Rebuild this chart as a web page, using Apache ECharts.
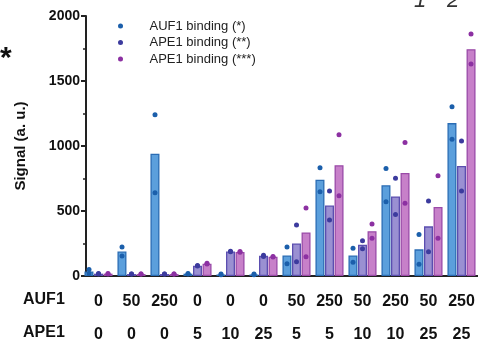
<!DOCTYPE html>
<html>
<head>
<meta charset="utf-8">
<script src="https://cdn.jsdelivr.net/npm/echarts@6/dist/echarts.min.js"></script>
<style>
  html, body { margin: 0; padding: 0; background: #fff; }
  #chart { width: 478px; height: 343px; }
</style>
</head>
<body>
<div id="chart"></div>
<script>
// conditions (concentrations) for each group
const auf1Labels = ["0", "50", "250", "0", "0", "0", "50", "250", "50", "250", "50", "250"];
const ape1Labels = ["0", "0", "0", "5", "10", "25", "5", "5", "10", "10", "25", "25"];

// bar heights (means)
const auf1Mean = [35, 188, 940, 18, 12, 12, 158, 740, 158, 698, 205, 1176];
const ape1MeanA = [18, 15, 15, 78, 188, 155, 250, 542, 241, 612, 382, 846];
const ape1MeanB = [18, 15, 15, 95, 185, 148, 335, 852, 345, 792, 531, 1745];

// replicate points
const auf1Rep1 = [50, 223, 1240, 20, 15, 15, 223, 833, 213, 826, 320, 1302];
const auf1Rep2 = [20, 154, 640, 16, 10, 10, 95, 649, 105, 572, 90, 1051];
const ape1ARep1 = [20, 15, 15, 80, 190, 160, 392, 654, 272, 751, 577, 1038];
const ape1ARep2 = [16, 15, 15, 76, 186, 150, 110, 431, 210, 474, 187, 654];
const ape1BRep1 = [20, 15, 15, 98, 188, 150, 523, 1087, 400, 1026, 772, 1861];
const ape1BRep2 = [16, 15, 15, 92, 182, 146, 148, 618, 290, 559, 290, 1630];

const yTicks = [0, 500, 1000, 1500, 2000];

const categories = auf1Labels.map((a, i) => a + "|" + ape1Labels[i]);
const pts = (r1, r2) => r1.map((v, i) => [i, v]).concat(r2.map((v, i) => [i, v]));

const chart = echarts.init(document.getElementById("chart"));
const font = "Liberation Sans, Arial, sans-serif";
const barW = 9;
const step = 9.5;

function barSeries(name, data, fill, border) {
  return {
    name: name,
    type: "bar",
    data: data,
    barWidth: barW,
    barGap: "6%",
    itemStyle: { color: fill, borderColor: border, borderWidth: 1.3 },
    z: 2,
  };
}

function dotSeries(name, data, color, off) {
  return {
    name: name,
    type: "scatter",
    data: data,
    symbolSize: 5,
    symbolOffset: [off, 0],
    itemStyle: { color: color, opacity: 1 },
    z: 5,
  };
}

chart.setOption({
  animation: false,
  textStyle: { fontFamily: font },
  grid: { left: 82, right: 0, top: 16, bottom: 67, outerBoundsMode: "none" },
  legend: {
    orient: "vertical",
    left: 113,
    top: 14,
    itemWidth: 48,
    itemHeight: 5,
    itemGap: 2.5,
    icon: "circle",
    data: ["AUF1 binding (*)", "APE1 binding (**)", "APE1 binding (***)"],
    textStyle: { fontSize: 13, color: "#222", lineHeight: 14, fontFamily: font },
  },
  xAxis: {
    type: "category",
    data: categories,
    axisLine: { lineStyle: { color: "#222", width: 2 } },
    axisTick: { alignWithLabel: true, length: 6, lineStyle: { color: "#222", width: 2 } },
    axisLabel: {
      interval: 0,
      margin: 9.5,
      fontSize: 16,
      fontWeight: "bold",
      color: "#111",
      lineHeight: 33,
      formatter: (v) => v.split("|").join("\n"),
    },
  },
  yAxis: {
    type: "value",
    min: 0,
    max: 2000,
    interval: 500,
    offset: -4,
    name: "Signal (a. u.)",
    nameLocation: "middle",
    nameGap: 58,
    nameTextStyle: { fontSize: 15, fontWeight: "bold", color: "#111", fontFamily: font },
    axisLine: { show: true, lineStyle: { color: "#222", width: 2 } },
    axisTick: { show: true, length: 5, lineStyle: { color: "#222", width: 2 } },
    minorTick: { show: true, splitNumber: 2, length: 3, lineStyle: { color: "#222", width: 1.5 } },
    splitLine: { show: false },
    axisLabel: {
      fontSize: 14,
      fontWeight: "bold",
      color: "#111",
      margin: 6,
      formatter: (v) => (yTicks.indexOf(v) >= 0 ? String(v) : ""),
    },
  },
  graphic: [
    { type: "text", left: 23, top: 292, style: { text: "AUF1", font: "bold 16px " + font, fill: "#111" } },
    { type: "text", left: 23, top: 325, style: { text: "APE1", font: "bold 16px " + font, fill: "#111" } },
    { type: "text", left: 0, top: 44, style: { text: "*", font: "bold 30px " + font, fill: "#111" } },
    { type: "text", left: 414, top: -10, style: { text: "1", font: "italic 22px " + font, fill: "#333" } },
    { type: "text", left: 447, top: -10, style: { text: "2", font: "italic 22px " + font, fill: "#333" } },
  ],
  series: [
    barSeries("AUF1 mean", auf1Mean, "#5b9fdc", "#2a6cb4"),
    barSeries("APE1 mean (**)", ape1MeanA, "#9a90d2", "#5b4eb0"),
    barSeries("APE1 mean (***)", ape1MeanB, "#c780c9", "#9a4aa8"),
    dotSeries("AUF1 binding (*)", pts(auf1Rep1, auf1Rep2), "#1b5fab", -step),
    dotSeries("APE1 binding (**)", pts(ape1ARep1, ape1ARep2), "#3c3b9e", 0),
    dotSeries("APE1 binding (***)", pts(ape1BRep1, ape1BRep2), "#8c30a2", step),
  ],
});
</script>
</body>
</html>
